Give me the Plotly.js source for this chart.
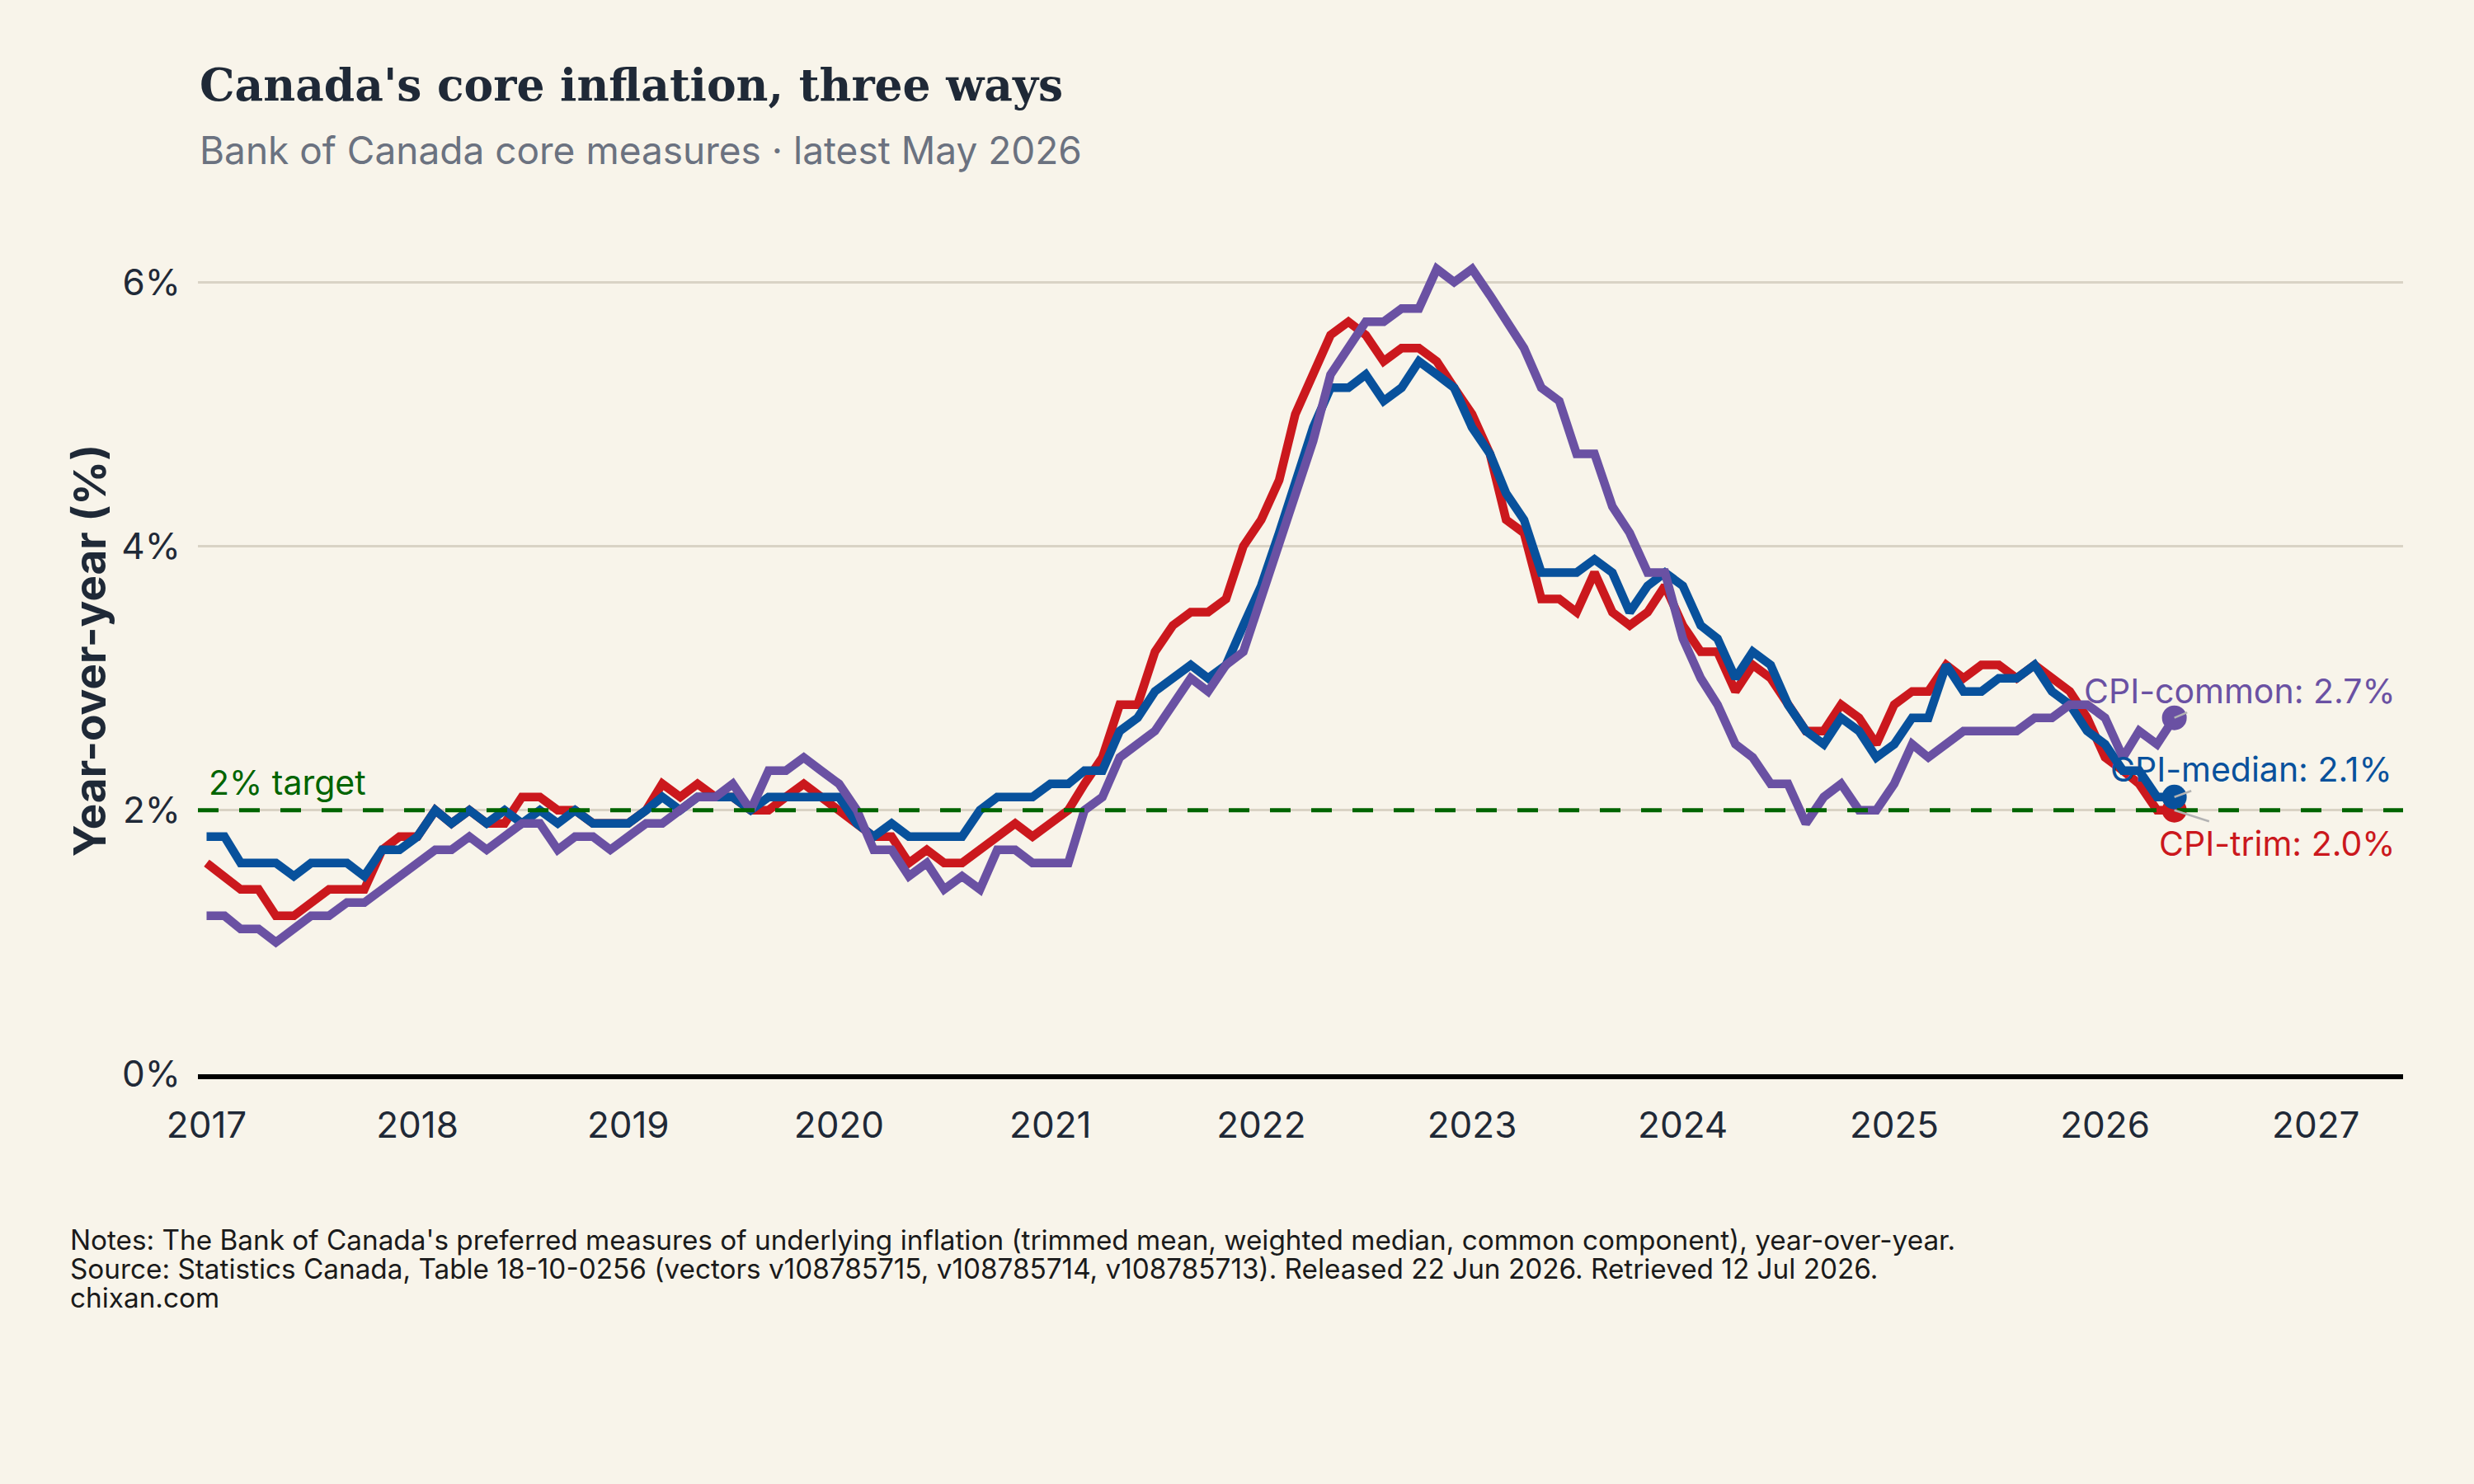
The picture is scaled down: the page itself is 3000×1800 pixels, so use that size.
<!DOCTYPE html>
<html>
<head>
<meta charset="utf-8">
<script src="https://cdn.plot.ly/plotly-3.0.1.min.js"></script>
<style>
  html, body { margin: 0; padding: 0; background: #f8f4ea; }
  #chart { width: 3000px; height: 1800px; }
</style>
</head>
<body>
<div id="chart"></div>
<script>
// ---- Data (year-over-year %, monthly, Jan 2017 – May 2026) ----
const firstYear = 2017;
const lastYear = 2026;
const lastMonth = 5;

const cpiTrim = [
  1.6,1.5,1.4,1.4,1.2,1.2,1.3,1.4,1.4,1.4,1.7,1.8,   // 2017
  1.8,2.0,1.9,2.0,1.9,1.9,2.1,2.1,2.0,2.0,1.9,1.9,   // 2018
  1.9,2.0,2.2,2.1,2.2,2.1,2.1,2.0,2.0,2.1,2.2,2.1,   // 2019
  2.0,1.9,1.8,1.8,1.6,1.7,1.6,1.6,1.7,1.8,1.9,1.8,   // 2020
  1.9,2.0,2.2,2.4,2.8,2.8,3.2,3.4,3.5,3.5,3.6,4.0,   // 2021
  4.2,4.5,5.0,5.3,5.6,5.7,5.6,5.4,5.5,5.5,5.4,5.2,   // 2022
  5.0,4.7,4.2,4.1,3.6,3.6,3.5,3.8,3.5,3.4,3.5,3.7,   // 2023
  3.4,3.2,3.2,2.9,3.1,3.0,2.8,2.6,2.6,2.8,2.7,2.5,   // 2024
  2.8,2.9,2.9,3.1,3.0,3.1,3.1,3.0,3.1,3.0,2.9,2.7,   // 2025
  2.4,2.3,2.2,2.0,2.0                                 // 2026
];

const cpiMedian = [
  1.8,1.8,1.6,1.6,1.6,1.5,1.6,1.6,1.6,1.5,1.7,1.7,
  1.8,2.0,1.9,2.0,1.9,2.0,1.9,2.0,1.9,2.0,1.9,1.9,
  1.9,2.0,2.1,2.0,2.1,2.1,2.1,2.0,2.1,2.1,2.1,2.1,
  2.1,1.9,1.8,1.9,1.8,1.8,1.8,1.8,2.0,2.1,2.1,2.1,
  2.2,2.2,2.3,2.3,2.6,2.7,2.9,3.0,3.1,3.0,3.1,3.4,
  3.7,4.1,4.5,4.9,5.2,5.2,5.3,5.1,5.2,5.4,5.3,5.2,
  4.9,4.7,4.4,4.2,3.8,3.8,3.8,3.9,3.8,3.5,3.7,3.8,
  3.7,3.4,3.3,3.0,3.2,3.1,2.8,2.6,2.5,2.7,2.6,2.4,
  2.5,2.7,2.7,3.1,2.9,2.9,3.0,3.0,3.1,2.9,2.8,2.6,
  2.5,2.3,2.3,2.1,2.1
];

const cpiCommon = [
  1.2,1.2,1.1,1.1,1.0,1.1,1.2,1.2,1.3,1.3,1.4,1.5,
  1.6,1.7,1.7,1.8,1.7,1.8,1.9,1.9,1.7,1.8,1.8,1.7,
  1.8,1.9,1.9,2.0,2.1,2.1,2.2,2.0,2.3,2.3,2.4,2.3,
  2.2,2.0,1.7,1.7,1.5,1.6,1.4,1.5,1.4,1.7,1.7,1.6,
  1.6,1.6,2.0,2.1,2.4,2.5,2.6,2.8,3.0,2.9,3.1,3.2,
  3.6,4.0,4.4,4.8,5.3,5.5,5.7,5.7,5.8,5.8,6.1,6.0,
  6.1,5.9,5.7,5.5,5.2,5.1,4.7,4.7,4.3,4.1,3.8,3.8,
  3.3,3.0,2.8,2.5,2.4,2.2,2.2,1.9,2.1,2.2,2.0,2.0,
  2.2,2.5,2.4,2.5,2.6,2.6,2.6,2.6,2.7,2.7,2.8,2.8,
  2.7,2.4,2.6,2.5,2.7
];

const seriesNames = ['CPI-trim', 'CPI-median', 'CPI-common'];
const targetValue = 2;
const yTickVals = [0, 2, 4, 6];
const yTickText = ['0%', '2%', '4%', '6%'];
const noteLines = [
  "Notes: The Bank of Canada's preferred measures of underlying inflation (trimmed mean, weighted median, common component), year-over-year.",
  "Source: Statistics Canada, Table 18-10-0256 (vectors v108785715, v108785714, v108785713). Released 22 Jun 2026. Retrieved 12 Jul 2026.",
  "chixan.com"
];

// Monthly date categories
const months = [];
for (let y = firstYear; y <= lastYear; y++) {
  for (let m = 1; m <= 12; m++) {
    if (y === lastYear && m > lastMonth) break;
    months.push(y + '-' + String(m).padStart(2, '0') + '-01');
  }
}

// ---- Styling ----
const BG = '#f8f4ea';
const TEXT = '#1f2937';
const colors = { trim: '#cb181d', median: '#08519c', common: '#6a51a3' };
const FONT = 'Inter, "Noto Sans", sans-serif';

const lastIdx = months.length - 1;
const lastX = months[lastIdx];

function lineTrace(name, y, color) {
  return {
    type: 'scatter', mode: 'lines', name: name,
    x: months, y: y,
    line: { color: color, width: 10.5 },
    hoverinfo: 'x+y+name'
  };
}
function endMarker(y, color) {
  return {
    type: 'scatter', mode: 'markers', showlegend: false,
    x: [lastX], y: [y[lastIdx]],
    marker: { color: color, size: 30 },
    hoverinfo: 'skip'
  };
}

const traces = [
  lineTrace(seriesNames[0], cpiTrim, colors.trim),
  lineTrace(seriesNames[1], cpiMedian, colors.median),
  lineTrace(seriesNames[2], cpiCommon, colors.common),
  endMarker(cpiTrim, colors.trim),
  endMarker(cpiMedian, colors.median),
  endMarker(cpiCommon, colors.common)
];

const plotTop = 275, plotBottom = 1303, plotLeft = 240, plotRight = 2914;
const plotH = plotBottom - plotTop, plotW = plotRight - plotLeft;
const py = Y => (plotBottom - Y) / plotH;   // pixel row -> paper y
const px = X => (X - plotLeft) / plotW;     // pixel col -> paper x

const endLabel = (name, y, color, ax, ay) => ({
  x: lastX, y: y[lastIdx], xref: 'x', yref: 'y',
  text: name + ': ' + y[lastIdx].toFixed(1) + '%',
  showarrow: true, arrowhead: 0, arrowwidth: 2.5, arrowcolor: '#b3b3b3',
  ax: ax, ay: ay, standoff: 0,
  font: { family: FONT, size: 41, color: color }
});

const noteAnn = (text, Y) => ({
  xref: 'paper', yref: 'paper', x: px(83), y: py(Y), xanchor: 'left', yanchor: 'middle',
  align: 'left', showarrow: false, text: text,
  font: { family: FONT, size: 33.3, color: '#1a1a1a' }
});

const layout = {
  width: 3000, height: 1800,
  paper_bgcolor: BG, plot_bgcolor: BG,
  showlegend: false,
  margin: { l: plotLeft, r: 3000 - plotRight, t: plotTop, b: 1800 - plotBottom },
  font: { family: FONT, color: TEXT, size: 40 },
  xaxis: {
    type: 'date',
    range: ['2016-12-17', '2027-06-01'],
    tick0: '2017-01-01', dtick: 'M12', tickformat: '%Y',
    showgrid: false, zeroline: false,
    showline: true, linecolor: '#000000', linewidth: 6,
    ticks: '', ticklabelstandoff: 18,
    tickfont: { family: FONT, size: 44, color: TEXT }
  },
  yaxis: {
    range: [0, 6.42],
    tickvals: yTickVals, ticktext: yTickText,
    showgrid: true, gridcolor: '#d9d3c5', gridwidth: 3,
    zeroline: false, showline: false, ticks: '', ticklabelstandoff: 20,
    tickfont: { family: FONT, size: 44, color: TEXT },
    title: { text: 'Year-over-year (%)', standoff: 1,
             font: { family: FONT, size: 53, color: TEXT, weight: 700 } }
  },
  shapes: [{
    type: 'line', xref: 'paper', x0: 0, x1: 1, yref: 'y', y0: targetValue, y1: targetValue,
    line: { color: '#006400', width: 5, dash: '25px,25px' }
  }],
  annotations: [
    { xref: 'paper', yref: 'paper', x: 0, y: py(104), xanchor: 'left', yanchor: 'middle',
      text: "Canada's core inflation, three ways", showarrow: false,
      font: { family: '"DejaVu Serif", "Liberation Serif", serif', size: 53.5, color: TEXT, weight: 700 } },
    { xref: 'paper', yref: 'paper', x: 0, y: py(182), xanchor: 'left', yanchor: 'middle',
      text: 'Bank of Canada core measures · latest May 2026', showarrow: false,
      font: { family: FONT, size: 46, color: '#6b7280' } },
    { xref: 'x', yref: 'y', x: months[0], y: targetValue, xanchor: 'left', yanchor: 'bottom',
      yshift: 7, text: '2% target', showarrow: false,
      font: { family: FONT, size: 41, color: '#006400' } },
    endLabel('CPI-common', cpiCommon, colors.common, 79, -33),
    endLabel('CPI-median', cpiMedian, colors.median, 93, -34),
    endLabel('CPI-trim', cpiTrim, colors.trim, 125, 40),
    noteAnn(noteLines[0], 1504),
    noteAnn(noteLines[1], 1539),
    noteAnn(noteLines[2], 1574)
  ]
};

Plotly.newPlot('chart', traces, layout, { staticPlot: true, displayModeBar: false });
</script>
</body>
</html>
